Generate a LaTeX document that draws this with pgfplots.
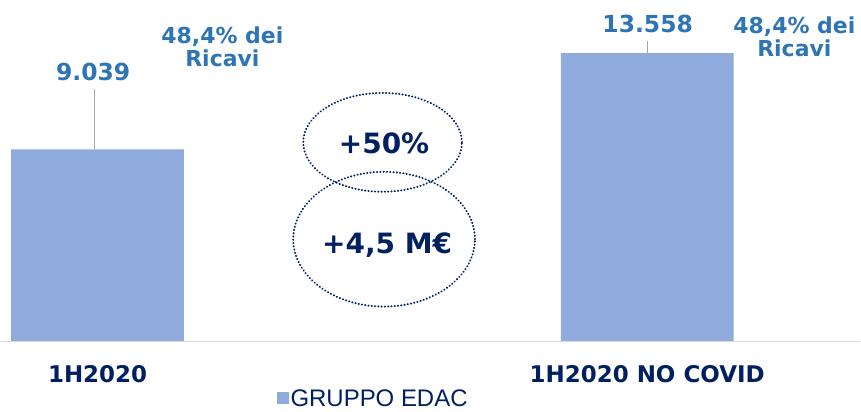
\documentclass[border=0pt]{standalone}
\usepackage{fontspec}
\setmainfont{DejaVu Sans}
\newfontfamily\legfont{Liberation Sans}
\usepackage{pgfplots}
\pgfplotsset{compat=1.18}
\definecolor{barblue}{HTML}{8FAADC}
\definecolor{valblue}{HTML}{2E75B6}
\definecolor{navy}{HTML}{002060}
\definecolor{leadgray}{HTML}{A6A6A6}
\definecolor{basegray}{HTML}{D9D9D9}

\begin{document}
\begin{tikzpicture}
\begin{axis}[
    name=ax,
    width=861pt, height=342pt, scale only axis,
    xmin=-0.1762, xmax=1.3878, ymin=0, ymax=16056,
    axis line style={draw=none},
    ytick=\empty,
    xtick={0,1},
    xticklabels={1H2020, 1H2020 NO COVID},
    major tick length=0pt,
    xticklabel style={anchor=center, yshift=-33pt,
        font=\fontsize{23}{23}\selectfont\bfseries, text=navy},
    ybar, bar width=0.3143, bar shift=0pt,
    clip=false,
    legend style={at={(rel axis cs:0.4332,-0.1667)}, anchor=center,
        draw=none, fill=none, font=\legfont\fontsize{24}{24}\selectfont,
        text=navy},
    legend image code/.code={\fill[barblue] (0pt,-6pt) rectangle (12pt,6pt);},
]
\addplot[fill=barblue, draw=none] coordinates {(0,9039) (1,13558)};
\addlegendentry{GRUPPO EDAC}

% baseline and leader lines
\draw[basegray, line width=1.5pt] (rel axis cs:0,0) -- (rel axis cs:1,0);
\draw[leadgray, line width=1.2pt] (axis cs:-0.0054,9039) -- (axis cs:-0.0054,11878);
\draw[leadgray, line width=1.2pt] (axis cs:1,13558) -- (axis cs:1,14131);

% value labels
\node[text=valblue, font=\fontsize{23.5}{23.5}\selectfont\bfseries] at (axis cs:-0.008,12676) {9.039};
\node[text=valblue, font=\fontsize{23.5}{23.5}\selectfont\bfseries] at (axis cs:1.001,14953) {13.558};
\node[text=valblue, align=center, font=\fontsize{22}{23}\selectfont\bfseries] at (axis cs:0.2271,13873) {48,4\% dei\\Ricavi};
\node[text=valblue, align=center, font=\fontsize{22}{23}\selectfont\bfseries] at (axis cs:1.2679,14343) {48,4\% dei\\Ricavi};

% growth ellipses
\draw[navy, line width=2pt, line cap=round, dash pattern=on 0.3pt off 3pt] (axis cs:0.5186,9366) ellipse [x radius=79.5pt, y radius=49.5pt];
\draw[navy, line width=2pt, line cap=round, dash pattern=on 0.3pt off 3pt] (axis cs:0.5213,4812) ellipse [x radius=91pt, y radius=67.5pt];
\node[text=navy, font=\fontsize{28}{28}\selectfont\bfseries] at (axis cs:0.5213,9343) {+50\%};
\node[text=navy, font=\fontsize{28}{28}\selectfont\bfseries] at (axis cs:0.5268,4554) {+4,5 M€};
\end{axis}
\path (ax.south west) ++(0,-69pt);
\end{tikzpicture}
\end{document}
